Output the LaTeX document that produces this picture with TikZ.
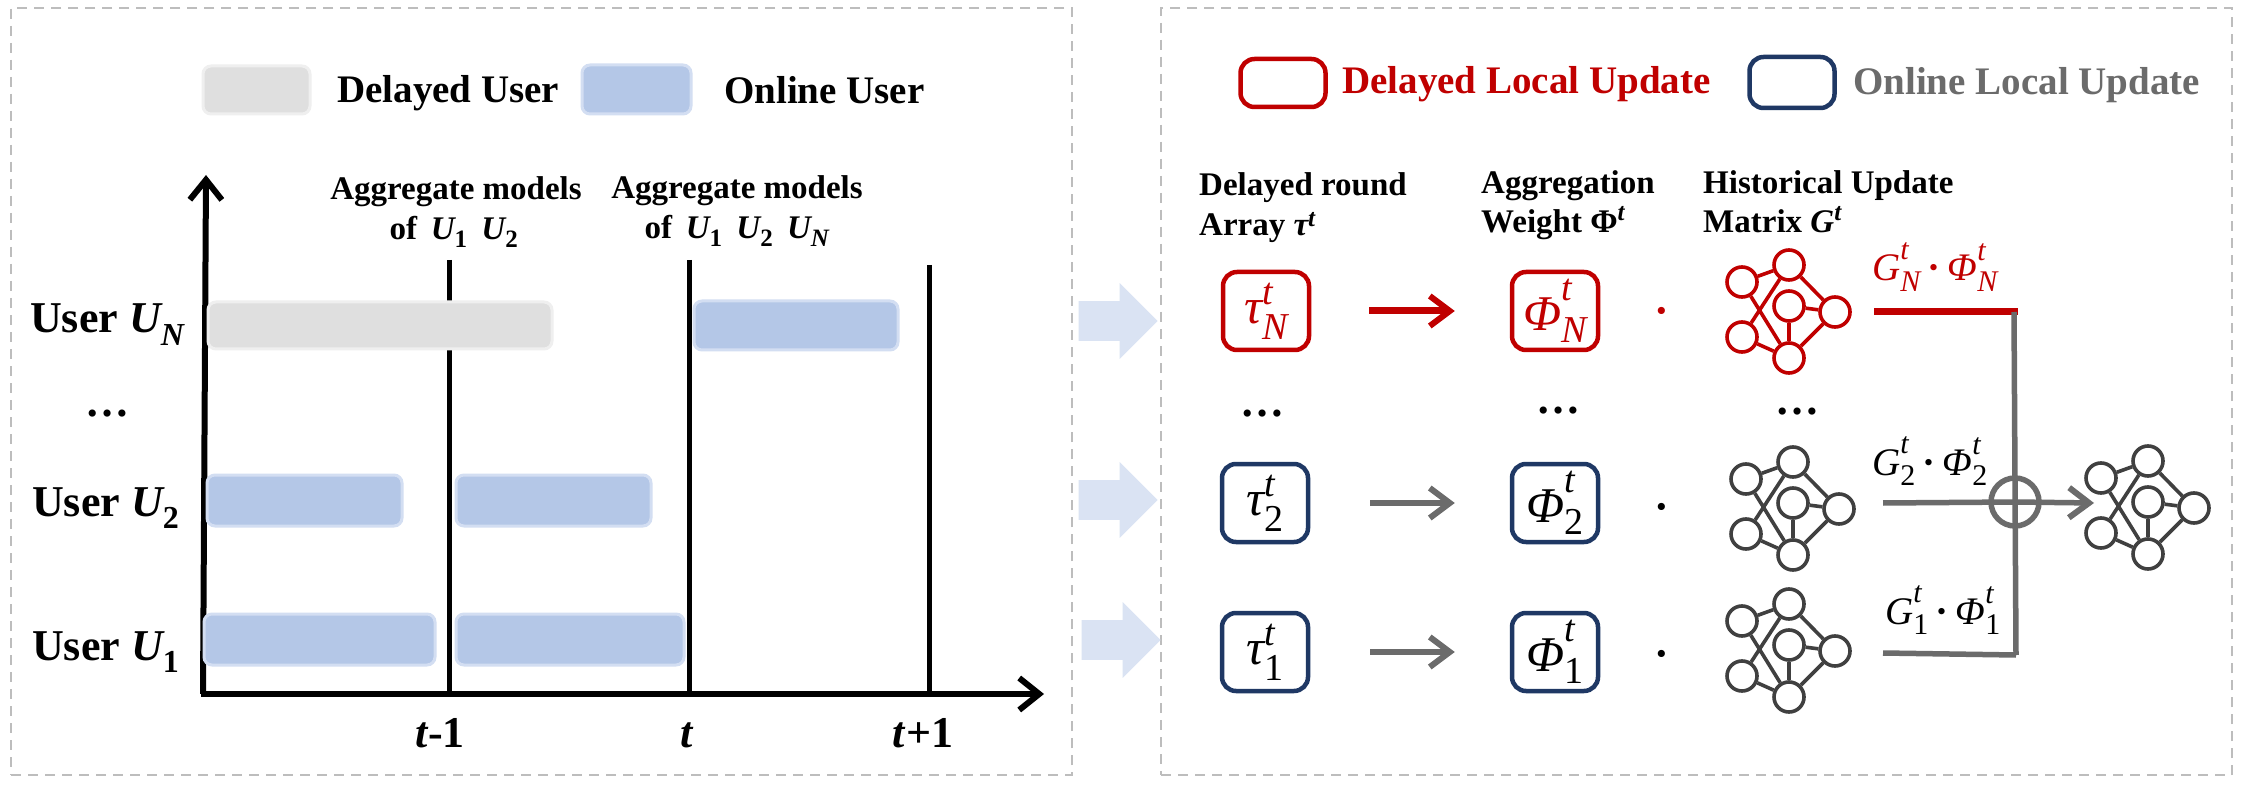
\documentclass[tikz,border=0pt]{standalone}
\usepackage{amsmath}
\usepackage{fontspec}
\setmainfont{Liberation Serif}
\usetikzlibrary{arrows.meta,shapes.arrows}
\DeclareMathSizes{33}{33}{25}{20}
\DeclareMathSizes{39}{39}{30}{22}
\DeclareMathSizes{44}{44}{32}{24}
\DeclareMathSizes{50}{50}{38}{28}
\definecolor{dashgray}{HTML}{BDBDBD}
\definecolor{barblue}{HTML}{B4C7E7}
\definecolor{barblueedge}{HTML}{D3DEF2}
\definecolor{bargray}{HTML}{DFDFDF}
\definecolor{bargrayedge}{HTML}{EFEFEF}
\definecolor{arrowblue}{HTML}{DAE3F3}
\definecolor{myred}{HTML}{C00000}
\definecolor{mynavy}{HTML}{1F3864}
\definecolor{mygray}{HTML}{6B6B6B}
\definecolor{netgray}{HTML}{404040}
\newcommand\ipt[1]{\text{\itshape #1}}
\newcommand\fsz[1]{\fontsize{#1}{#1}\selectfont}
% letter with raised t and lowered index, as stacked in the reference
\newcommand\stk[3]{\ipt{#1}^{\text{\raisebox{.16em}{\itshape t}}}_{\text{\raisebox{-.16em}{#3}}}}
\newcommand\mydot{\;\text{\bfseries ·}\;}
\tikzset{
  panel/.style={draw=dashgray,line width=2.5pt,dash pattern=on 10pt off 7pt},
  axisline/.style={line width=6pt,-{Straight Barb[length=20pt,width=32pt,line width=6pt]}},
  tick/.style={line width=5pt},
  bluebar/.style={draw=barblueedge,fill=barblue,line width=3pt,rounded corners=8pt},
  graybar/.style={draw=bargrayedge,fill=bargray,line width=3pt,rounded corners=8pt},
  lab/.style={inner sep=0pt,anchor=base west,font=\bfseries\fsz{39}},
  labc/.style={inner sep=0pt,anchor=base,font=\bfseries\fsz{33}},
  head/.style={inner sep=0pt,anchor=base west,font=\bfseries\fsz{33}},
  tickl/.style={inner sep=0pt,anchor=base,font=\bfseries\fsz{44}},
  usr/.style={inner sep=0pt,anchor=base west,font=\bfseries\fsz{44}},
  dots/.style={inner sep=0pt,anchor=base,font=\bfseries\fsz{44}},
  muldot/.style={inner sep=0pt,anchor=base,font=\bfseries\fsz{44}},
  redbox/.style={draw=myred,line width=4.5pt,rounded corners=14pt,fill=white,text=myred,inner sep=0pt,font=\fsz{50}},
  navybox/.style={draw=mynavy,line width=4.5pt,rounded corners=14pt,fill=white,text=black,inner sep=0pt,font=\fsz{50}},
  bigarrow/.style={single arrow,fill=arrowblue,minimum height=79pt,minimum width=71pt,single arrow head extend=18pt,single arrow tip angle=90,inner xsep=0pt,inner ysep=17.5pt,anchor=tip},
  redarrow/.style={draw=myred,line width=7pt,-{Straight Barb[length=20pt,width=30pt,line width=6pt]}},
  grayarrow/.style={draw=mygray,line width=6pt,-{Straight Barb[length=20pt,width=30pt,line width=6pt]}},
  flow/.style={draw=mygray,line width=5.5pt},
  nn/.style={circle,draw=#1,fill=none,line width=3.6pt,minimum size=30pt,inner sep=0pt},
  ne/.style={draw=#1,line width=3.6pt},
  net/.pic={
    \node[nn=#1] (-c) at (0,0) {};
    \node[nn=#1] (-t) at (0,-41) {};
    \node[nn=#1] (-l) at (-47,-24) {};
    \node[nn=#1] (-r) at (46,6) {};
    \node[nn=#1] (-b) at (-47,31) {};
    \node[nn=#1] (-d) at (0,52) {};
    \draw[ne=#1] (-l)--(-t) (-l)--(-d) (-t)--(-b) (-t)--(-r) (-c)--(-r) (-c)--(-d) (-r)--(-d) (-b)--(-d);
  },
}
\begin{document}
\begin{tikzpicture}[x=1pt,y=-1pt]
\useasboundingbox (0,0) rectangle (2247,786);
\fill[white] (0,0) rectangle (2247,786);
% panels
\node[panel,inner sep=0pt,minimum width=1061pt,minimum height=767pt] (leftpanel) at (541.5,391.5) {};
\node[panel,inner sep=0pt,minimum width=1071pt,minimum height=767pt] (rightpanel) at (1696.5,391.5) {};
% left legend
\node[graybar,minimum width=107pt,minimum height=48pt] (leggray) at (256.5,90) {};
\node[bluebar,minimum width=109pt,minimum height=49pt] (legblue) at (636.5,89.5) {};
\node[lab] (legd) at (337,103) {Delayed User};
\node[lab] (lego) at (724,104) {Online User};
% axes
\coordinate (orig) at (203,694);
\coordinate (ytop) at (206,175);
\coordinate (xend) at (1044,694);
\coordinate (t1a) at (449,260); \coordinate (t1b) at (449,692);
\coordinate (t2a) at (689,260); \coordinate (t2b) at (689,692);
\coordinate (t3a) at (929,265); \coordinate (t3b) at (929,692);
\draw[tick] (t1a)--(t1b);
\draw[tick] (t2a)--(t2b);
\draw[tick] (t3a)--(t3b);
\draw[axisline] (orig)--(ytop);
\draw[axisline] ([xshift=-2pt]orig)--(xend);
% bars
\node[graybar,minimum width=344pt,minimum height=47pt] (barNa) at (380,325.5) {};
\node[bluebar,minimum width=204pt,minimum height=49pt] (barNb) at (796,325.5) {};
\node[bluebar,minimum width=195pt,minimum height=51pt] (bar2a) at (304.5,500.5) {};
\node[bluebar,minimum width=195pt,minimum height=51pt] (bar2b) at (553.5,500.5) {};
\node[bluebar,minimum width=231pt,minimum height=51pt] (bar1a) at (319.5,639.5) {};
\node[bluebar,minimum width=228pt,minimum height=51pt] (bar1b) at (570,639.5) {};
% user labels
\node[usr] (un) at (30,333) {User $\ipt{U}_{\ipt{N}}$};
\node[usr] (u2) at (32,516) {User $\ipt{U}_{\text{2}}$};
\node[usr] (u1) at (32,660) {User $\ipt{U}_{\text{1}}$};
\node[dots] (udots) at (107,416) {…};
% aggregate labels
\node[labc] (ag1) at (456,200) {Aggregate models};
\node[labc] (of1) at (454,240) {of\, $\ipt{U}_{\text{1}}$\, $\ipt{U}_{\text{2}}$};
\node[labc] (ag2) at (737,199) {Aggregate models};
\node[labc] (of2) at (737,239) {of\, $\ipt{U}_{\text{1}}$\, $\ipt{U}_{\text{2}}$\, $\ipt{U}_{\ipt{N}}$};
% ticks
\node[tickl] (lt1) at (440,747) {\textit{t}-1};
\node[tickl] (lt2) at (687,747) {\textit{t}};
\node[tickl] (lt3) at (923,747) {\textit{t}+1};
% big arrows
\node[bigarrow] (ba1) at (1158,321) {\phantom{x}};
\node[bigarrow] (ba2) at (1158,500) {\phantom{x}};
\node[bigarrow] (ba3) at (1161,640) {\phantom{x}};
% right legend
\node[redbox,minimum width=85pt,minimum height=48pt] (legr) at (1283,83) {};
\node[navybox,minimum width=85pt,minimum height=51pt] (legn) at (1792,82.5) {};
\node[lab,text=myred] (legrt) at (1342,94) {Delayed Local Update};
\node[lab,text=mygray] (legnt) at (1853,95) {Online Local Update};
% column headers
\node[head] (h1a) at (1199,196) {Delayed round};
\node[head] (h1b) at (1199,236) {Array $\ipt{τ}^{\ipt{t}}$};
\node[head] (h2a) at (1481,194) {Aggregation};
\node[head] (h2b) at (1481,233) {Weight $\text{Φ}^{\ipt{t}}$};
\node[head] (h3a) at (1703,194) {Historical Update};
\node[head] (h3b) at (1703,233) {Matrix $\ipt{G}^{\ipt{t}}$};
% boxes
\node[redbox,minimum width=86pt,minimum height=78pt] (tauN) at (1266,311) {$\stk{τ}{t}{\itshape N}$};
\node[redbox,minimum width=86pt,minimum height=78pt] (phiN) at (1555,311) {$\stk{Φ}{t}{\itshape N}$};
\node[navybox,minimum width=86pt,minimum height=78pt] (tau2) at (1265,503) {$\stk{τ}{t}{2}$};
\node[navybox,minimum width=86pt,minimum height=78pt] (phi2) at (1555,503) {$\stk{Φ}{t}{2}$};
\node[navybox,minimum width=86pt,minimum height=78pt] (tau1) at (1265,652) {$\stk{τ}{t}{1}$};
\node[navybox,minimum width=86pt,minimum height=78pt] (phi1) at (1555,652) {$\stk{Φ}{t}{1}$};
\draw[redarrow,shorten <=58pt,shorten >=55pt] (tauN)--(phiN);
\draw[grayarrow,shorten <=60pt,shorten >=55pt] (tau2)--(phi2);
\draw[grayarrow,shorten <=60pt,shorten >=55pt] (tau1)--(phi1);
% dots
\node[dots] (d1) at (1262,416) {…};
\node[dots] (d2) at (1558,413) {…};
\node[dots] (d3) at (1797,414) {…};
\node[muldot,text=myred] (m1) at (1662,326) {·};
\node[muldot] (m2) at (1662,521) {·};
\node[muldot] (m3) at (1662,668) {·};
% networks
\pic (netN) at (1789,306) {net=myred};
\pic (net2) at (1793,503) {net=netgray};
\pic (net1) at (1789,645) {net=netgray};
\pic (netO) at (2148,502) {net=netgray};
% flow
\coordinate (jN) at (2014,312);
\coordinate (jB) at (2016,655);
\coordinate (sN) at (1874,312);
\coordinate (eN) at (2018,312);
\coordinate (s2) at (1883,503);
\coordinate (s1) at (1883,653);
\coordinate (oend) at (2094,503);
\draw[draw=myred,line width=7pt] (sN)--(eN);
\node[circle,draw=mygray,line width=5.5pt,minimum size=48pt,inner sep=0pt] (sum) at (2015,502) {};
\draw[flow] (jN)--(jB);
\draw[flow] (s1)--(jB);
\draw[flow] (s2)--(sum.center);
\draw[grayarrow,line width=5.5pt] (sum.center)--(oend);
% labels on flow
\node[inner sep=0pt,anchor=base west,text=myred,font=\fsz{39}] (lN) at (1872,281) {$\stk{G}{t}{\itshape N}\mydot\stk{Φ}{t}{\itshape N}$};
\node[inner sep=0pt,anchor=base west,font=\fsz{39}] (l2) at (1872,475) {$\stk{G}{t}{2}\mydot\stk{Φ}{t}{2}$};
\node[inner sep=0pt,anchor=base west,font=\fsz{39}] (l1) at (1885,624) {$\stk{G}{t}{1}\mydot\stk{Φ}{t}{1}$};
\end{tikzpicture}
\end{document}
